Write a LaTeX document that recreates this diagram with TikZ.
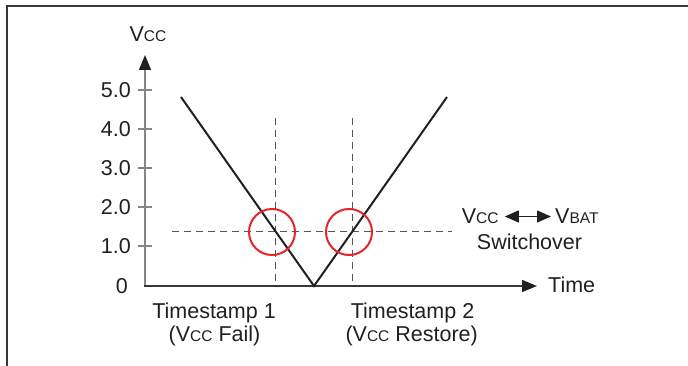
\documentclass[tikz,border=0pt]{standalone}
\usepackage{fontspec}
\setmainfont{Liberation Sans}
\usepackage{xcolor}
\usepackage{tikz}
\usetikzlibrary{arrows.meta}
\definecolor{inkcol}{HTML}{231F20}
\definecolor{axisgray}{HTML}{858585}
\definecolor{guidecol}{HTML}{555555}
\definecolor{ringred}{HTML}{E3262B}
\newcommand\capsub[1]{{\fontsize{15.5}{16}\selectfont #1}}
\newcommand\lblfont{\fontsize{21.5}{23}\selectfont}
\tikzstyle{frame}=[line width=2pt,draw=inkcol!90]
\tikzstyle{axis}=[line width=1.4pt,-{Triangle[length=15pt,width=12pt,color=inkcol]}]
\tikzstyle{tick}=[line width=1.2pt,draw=axisgray]
\tikzstyle{trace}=[line width=2pt,draw=inkcol,line join=miter]
\tikzstyle{guide}=[line width=1pt,draw=guidecol,dash pattern=on 7pt off 5pt]
\tikzstyle{ring}=[circle,draw=ringred,line width=2pt,minimum size=46pt,inner sep=0pt]
\tikzstyle{lbl}=[font=\lblfont,text=inkcol,inner sep=0pt]
\tikzstyle{swap}=[line width=1.3pt,draw=inkcol,{Triangle[length=14pt,width=12pt]}-{Triangle[length=14pt,width=12pt]}]

\begin{document}
\begin{tikzpicture}[x=1pt,y=-1pt]
	\useasboundingbox (0,0) rectangle (688,366);
	\draw[frame] (688,6.5) -- (6.5,6.5) -- (6.5,366);
	% axes
	\coordinate (origin) at (145,286);
	\coordinate (ytop) at (145,55);
	\coordinate (xend) at (537,286);
	\draw[axis,draw=axisgray] (origin) -- (ytop);
	\draw[axis,draw=inkcol!90] ([xshift=-1pt]origin) -- (xend);
	\node[lbl,anchor=base] (vcc axis) at (148,42) {V\capsub{CC}};
	\node[lbl,anchor=west] (time) at (548,285) {Time};
	\foreach \val/\ypos in {5.0/90,4.0/129,3.0/168,2.0/207,1.0/246}{
		\draw[tick] (138,\ypos) -- (152,\ypos);
		\node[lbl,anchor=east] at (131,\ypos) {\val};
	}
	\node[lbl,anchor=east] (zero) at (128,286) {0};
	% guides
	\coordinate (fail top) at (275,118);
	\coordinate (fail bot) at (275,286);
	\coordinate (rest top) at (352,118);
	\coordinate (rest bot) at (352,286);
	\coordinate (lvl left) at (172,232);
	\coordinate (lvl right) at (452,232);
	\draw[guide] (fail top) -- (fail bot);
	\draw[guide] (rest top) -- (rest bot);
	\draw[guide] (lvl left) -- (lvl right);
	% supply trace
	\coordinate (start) at (181,97);
	\coordinate (dip) at (314,286);
	\coordinate (finish) at (447,97);
	\draw[trace] (start) -- (dip) -- (finish);
	\node[ring] (ring fail) at (272,232) {};
	\node[ring] (ring rest) at (349,232) {};
	% switchover
	\node[lbl,anchor=west] (sw vcc) at (461.7,216.5) {V\capsub{CC}};
	\node[lbl,anchor=west] (sw vbat) at (555,216.5) {V\capsub{BAT}};
	\draw[swap,shorten <=6pt,shorten >=4pt] (sw vcc) -- (sw vbat);
	\node[lbl,anchor=base] (switchover) at (529.5,249.3) {Switchover};
	% timestamps
	\node[lbl,anchor=base] (ts1) at (214,318) {Timestamp 1};
	\node[lbl,anchor=base] (ts1 note) at (214.5,341) {(V\capsub{CC} Fail)};
	\node[lbl,anchor=base] (ts2) at (412.5,318) {Timestamp 2};
	\node[lbl,anchor=base] (ts2 note) at (411.7,341) {(V\capsub{CC} Restore)};
\end{tikzpicture}
\end{document}
